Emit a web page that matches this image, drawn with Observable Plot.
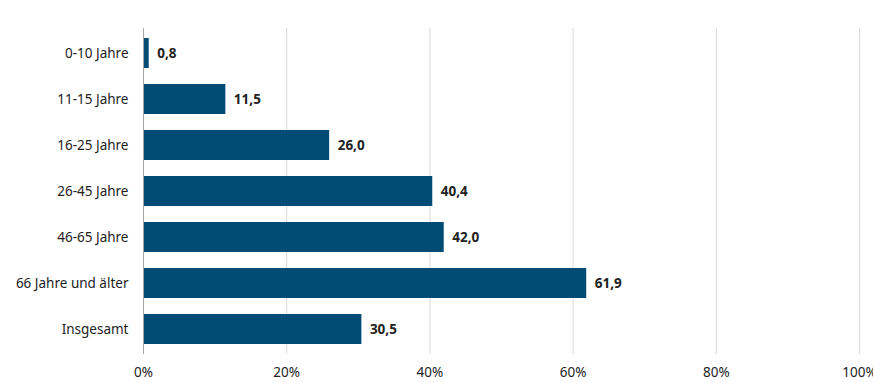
<!DOCTYPE html>
<html><head><meta charset="utf-8">
<script src="https://cdn.jsdelivr.net/npm/d3@7"></script>
<script src="https://cdn.jsdelivr.net/npm/@observablehq/plot@0.6"></script>
<style>body{margin:0;background:#fff;} svg{display:block;}</style>
</head><body><div id="chart"></div>
<script>
const categories = ["0-10 Jahre","11-15 Jahre","16-25 Jahre","26-45 Jahre","46-65 Jahre","66 Jahre und älter","Insgesamt"];
const values = [0.8, 11.5, 26.0, 40.4, 42.0, 61.9, 30.5];
const xTicks = [0, 20, 40, 60, 80, 100];
const data = categories.map((c, i) => ({category: c, value: values[i]}));
const fmt = v => v.toFixed(1).replace(".", ",");
const chart = Plot.plot({
  width: 873, height: 382,
  marginLeft: 143, marginRight: 14, marginTop: 28, marginBottom: 28,
  style: {fontFamily: "'Noto Sans', sans-serif", fontSize: "13.5px", color: "#222"},
  x: {domain: [0, 100], ticks: xTicks, tickFormat: d => d + "%", label: null, tickSize: 0, tickPadding: 13},
  y: {domain: categories, label: null, tickSize: 0, tickPadding: 15, paddingInner: 0.34, paddingOuter: 0.17},
  marks: [
    Plot.ruleX(xTicks.filter(d => d > 0), {stroke: "#d9d9d9", strokeWidth: 1}),
    Plot.barX(data, {y: "category", x: "value", fill: "#014b75"}),
    Plot.ruleX([0], {stroke: "#a6a6a6", strokeWidth: 1}),
    Plot.text(data, {y: "category", x: "value", text: d => fmt(d.value), dx: 8, textAnchor: "start", fontWeight: "bold", fill: "#222", fontSize: 13.5})
  ]
});
document.getElementById("chart").appendChild(chart);
</script></body></html>
